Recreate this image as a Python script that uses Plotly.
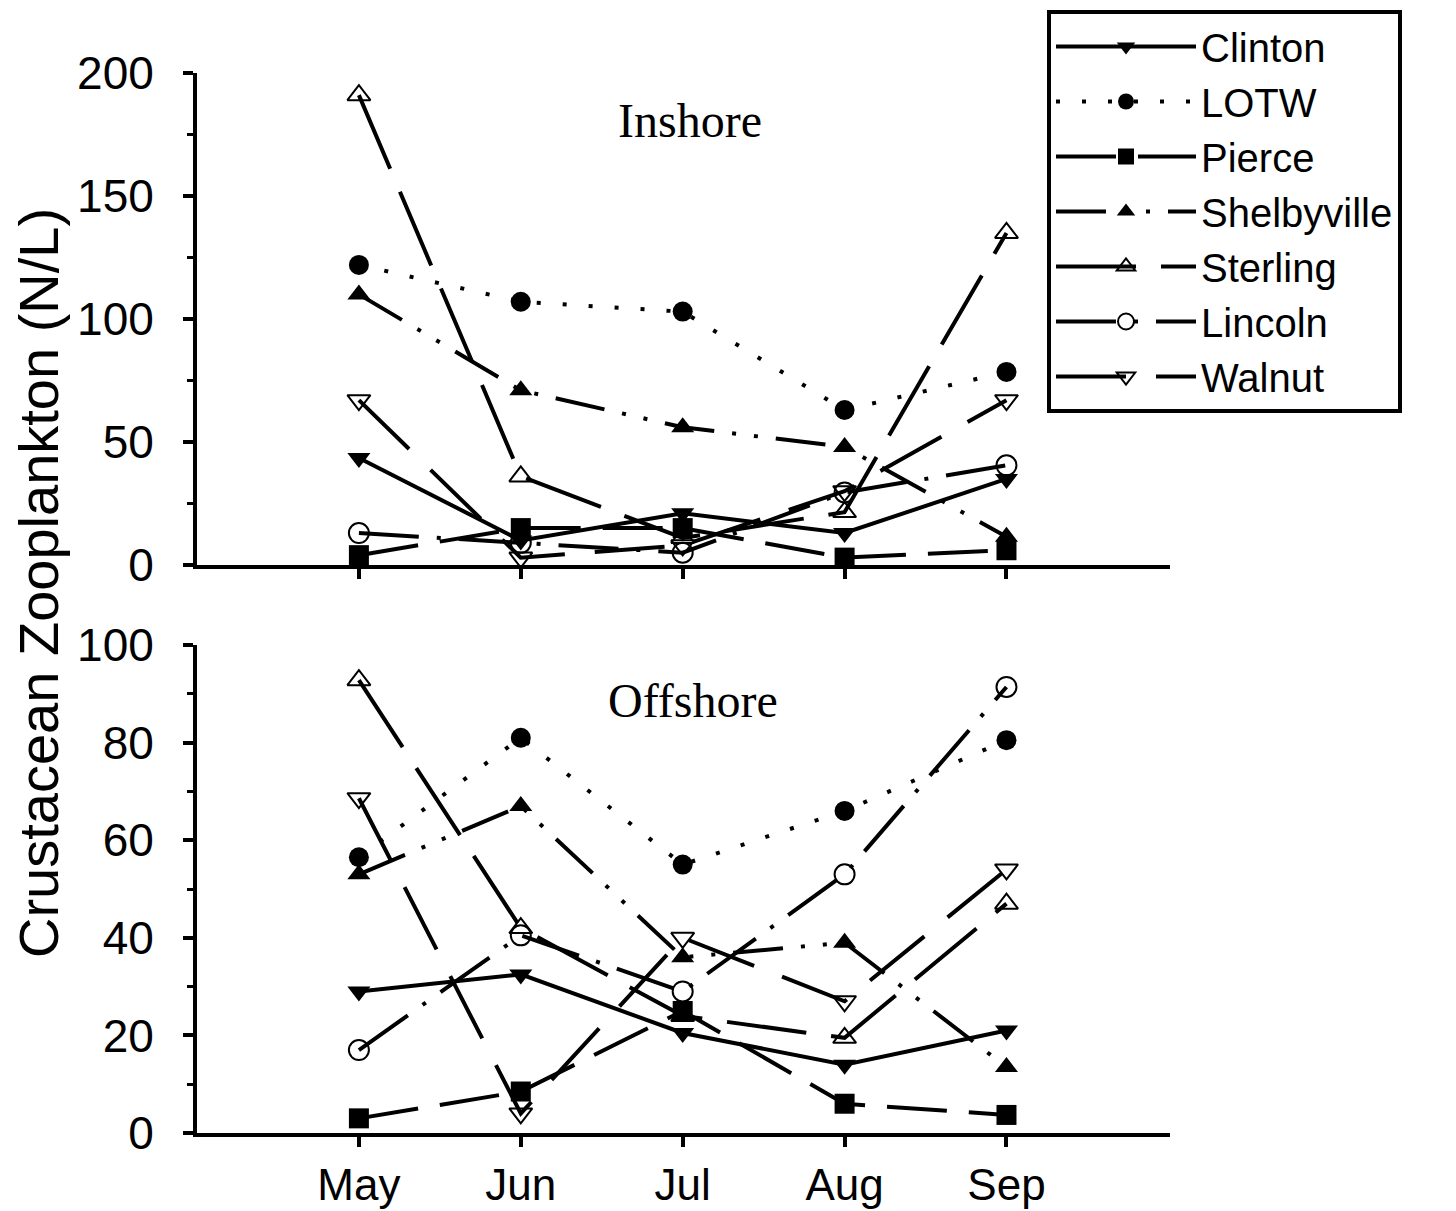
import plotly.graph_objects as go

months = ["May", "Jun", "Jul", "Aug", "Sep"]
series = ["Clinton", "LOTW", "Pierce", "Shelbyville", "Sterling", "Lincoln", "Walnut"]

inshore = {
    "Clinton":     [43.5, 10, 21, 13, 35],
    "LOTW":        [122, 107, 103, 63, 78.5],
    "Pierce":      [4, 15, 15, 3, 6],
    "Shelbyville": [110, 71, 56, 48, 11.5],
    "Sterling":    [191, 36, 11, 21.5, 135],
    "Lincoln":     [13, 9, 5, 29.5, 40.5],
    "Walnut":      [67, 3, 8, 30, 67],
}
offshore = {
    "Clinton":     [29, 32.5, 20.5, 14, 21],
    "LOTW":        [56.5, 81, 55, 66, 80.5],
    "Pierce":      [3, 8.5, 25, 6, 3.7],
    "Shelbyville": [53, 67, 36, 39, 13.5],
    "Sterling":    [92.8, 42, 24, 19.5, 47],
    "Lincoln":     [17, 40.5, 29, 53, 91.4],
    "Walnut":      [68.6, 4, 40, 27, 54],
}

styles = {
    "Clinton":     dict(symbol="triangle-down", dash="solid"),
    "LOTW":        dict(symbol="circle", dash="4px,22px"),
    "Pierce":      dict(symbol="square", dash="60px,22px"),
    "Shelbyville": dict(symbol="triangle-up", dash="50px,18px,4px,18px,4px,18px"),
    "Sterling":    dict(symbol="triangle-up-open", dash="80px,25px"),
    "Lincoln":     dict(symbol="circle-open", dash="60px,18px,4px,18px"),
    "Walnut":      dict(symbol="triangle-down-open", dash="70px,30px"),
}

fig = go.Figure()
for panel, data, xa, ya in [(0, inshore, "x", "y"), (1, offshore, "x2", "y2")]:
    for name in series:
        st = styles[name]
        is_open = st["symbol"].endswith("open")
        fig.add_trace(go.Scatter(
            x=months, y=data[name], name=name, xaxis=xa, yaxis=ya,
            mode="lines+markers", legendgroup=name, showlegend=(panel == 0),
            line=dict(color="black", width=4, dash=st["dash"]),
            marker=dict(symbol=st["symbol"], size=20,
                        color="black",
                        line=dict(color="black", width=2 if is_open else 0)),
        ))

# page has an 8px body margin; figure sized to fill the 1456x1211 window
OFF = 8
W, H = 1456 - 2 * OFF, 1211 - OFF


def px(x):
    return (x - OFF) / W


def py(y):
    return 1 - (y - OFF) / H


xdom = [px(197), px(1170)]
tickfont = dict(family="Liberation Sans, Arial", size=46, color="black")
axis_common = dict(showline=True, linecolor="black", linewidth=4, mirror=False,
                   showgrid=False, zeroline=False, ticks="outside", tickwidth=4,
                   tickcolor="black")

fig.update_layout(
    width=W, height=H,
    margin=dict(l=0, r=0, t=0, b=0, autoexpand=False),
    plot_bgcolor="white", paper_bgcolor="white",
    xaxis=dict(domain=xdom, anchor="y", range=[-1.0, 5.01], type="category",
               showticklabels=False, ticklen=10, tickfont=tickfont, **axis_common),
    yaxis=dict(domain=[py(565), py(73)], anchor="x", range=[0, 200],
               tickvals=[0, 50, 100, 150, 200], ticklen=10, ticklabelstandoff=20,
               tickfont=tickfont,
               minor=dict(tickvals=[25, 75, 125, 175], ticks="outside", ticklen=6,
                          tickwidth=3, tickcolor="black"),
               **axis_common),
    xaxis2=dict(domain=xdom, anchor="y2", range=[-1.0, 5.01], type="category",
                ticklen=10, ticklabelstandoff=0,
                tickfont=dict(family="Liberation Sans, Arial", size=44, color="black"),
                **axis_common),
    yaxis2=dict(domain=[py(1133), py(645)], anchor="x2", range=[0, 100],
                tickvals=[0, 20, 40, 60, 80, 100], ticklen=10, ticklabelstandoff=20,
                tickfont=tickfont,
                minor=dict(tickvals=[10, 30, 50, 70, 90], ticks="outside", ticklen=6,
                           tickwidth=3, tickcolor="black"),
                **axis_common),
    legend=dict(x=px(1047), y=py(10), xanchor="left", yanchor="top",
                bordercolor="black", borderwidth=4, bgcolor="white",
                font=dict(family="Liberation Sans, Arial", size=40, color="black"),
                itemwidth=140, tracegroupgap=0),
    showlegend=True,
    annotations=[
        dict(text="Inshore", x=px(690), y=py(120), xref="paper", yref="paper",
             xanchor="center", yanchor="middle", showarrow=False,
             font=dict(family="Liberation Serif, Times New Roman", size=48, color="black")),
        dict(text="Offshore", x=px(693), y=py(700), xref="paper", yref="paper",
             xanchor="center", yanchor="middle", showarrow=False,
             font=dict(family="Liberation Serif, Times New Roman", size=48, color="black")),
        dict(text="Crustacean Zooplankton (N/L)", x=px(38), y=py(583),
             xref="paper", yref="paper", textangle=-90, showarrow=False,
             xanchor="center", yanchor="middle",
             font=dict(family="Liberation Sans, Arial", size=56, color="black")),
    ],
)

fig.write_html("out.html")
